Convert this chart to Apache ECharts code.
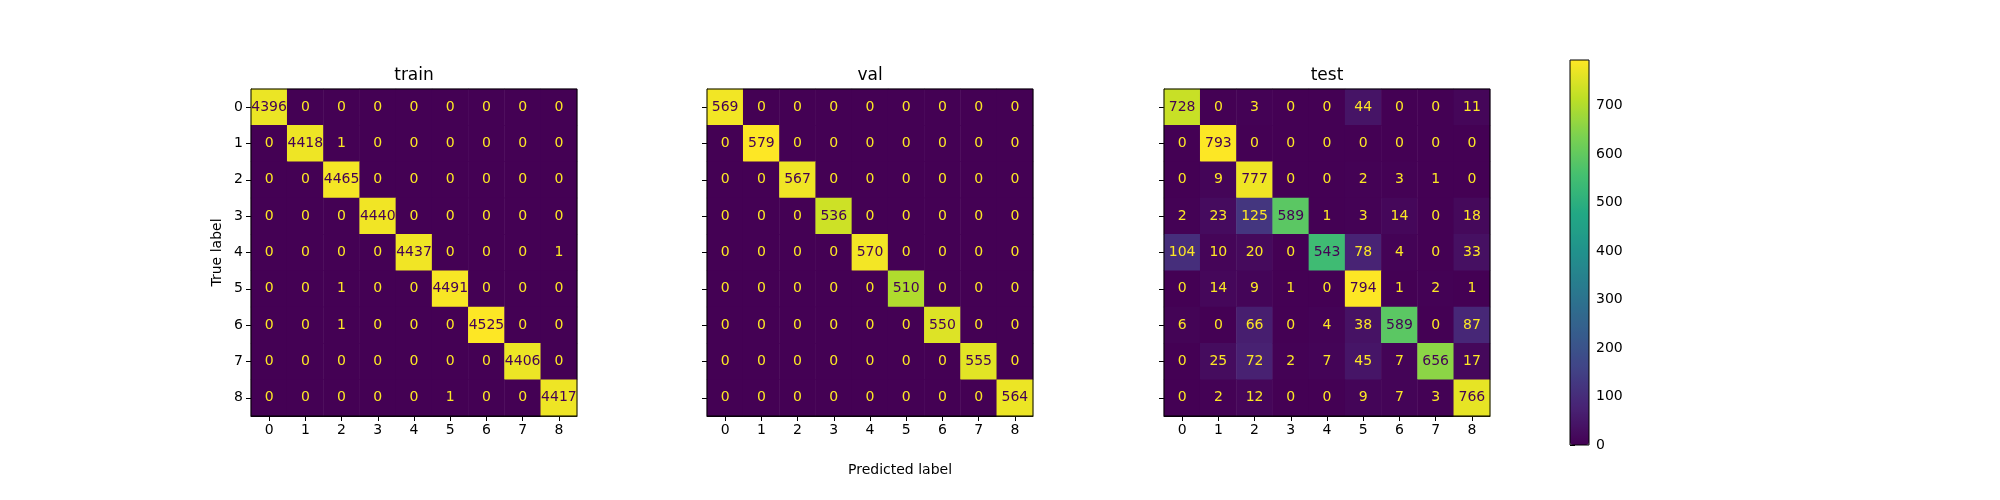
<!DOCTYPE html>
<html>
<head>
<meta charset="utf-8">
<script src="https://cdn.jsdelivr.net/npm/echarts@6/dist/echarts.min.js"></script>
<style>
  html, body { margin: 0; padding: 0; background: #fff; }
  #main { width: 2000px; height: 500px; }
</style>
</head>
<body>
<div id="main"></div>
<script>
const labels = ['0', '1', '2', '3', '4', '5', '6', '7', '8']
const panelNames = ['train', 'val', 'test']

// rows = true label, cols = predicted label
const trainMatrix = [
  [4396, 0, 0, 0, 0, 0, 0, 0, 0],
  [0, 4418, 1, 0, 0, 0, 0, 0, 0],
  [0, 0, 4465, 0, 0, 0, 0, 0, 0],
  [0, 0, 0, 4440, 0, 0, 0, 0, 0],
  [0, 0, 0, 0, 4437, 0, 0, 0, 1],
  [0, 0, 1, 0, 0, 4491, 0, 0, 0],
  [0, 0, 1, 0, 0, 0, 4525, 0, 0],
  [0, 0, 0, 0, 0, 0, 0, 4406, 0],
  [0, 0, 0, 0, 0, 1, 0, 0, 4417]
]
const valMatrix = [
  [569, 0, 0, 0, 0, 0, 0, 0, 0],
  [0, 579, 0, 0, 0, 0, 0, 0, 0],
  [0, 0, 567, 0, 0, 0, 0, 0, 0],
  [0, 0, 0, 536, 0, 0, 0, 0, 0],
  [0, 0, 0, 0, 570, 0, 0, 0, 0],
  [0, 0, 0, 0, 0, 510, 0, 0, 0],
  [0, 0, 0, 0, 0, 0, 550, 0, 0],
  [0, 0, 0, 0, 0, 0, 0, 555, 0],
  [0, 0, 0, 0, 0, 0, 0, 0, 564]
]
const testMatrix = [
  [728, 0, 3, 0, 0, 44, 0, 0, 11],
  [0, 793, 0, 0, 0, 0, 0, 0, 0],
  [0, 9, 777, 0, 0, 2, 3, 1, 0],
  [2, 23, 125, 589, 1, 3, 14, 0, 18],
  [104, 10, 20, 0, 543, 78, 4, 0, 33],
  [0, 14, 9, 1, 0, 794, 1, 2, 1],
  [6, 0, 66, 0, 4, 38, 589, 0, 87],
  [0, 25, 72, 2, 7, 45, 7, 656, 17],
  [0, 2, 12, 0, 0, 9, 7, 3, 766]
]
const colorbarTicks = [0, 100, 200, 300, 400, 500, 600, 700]

const viridis = ['#440154', '#482475', '#414487', '#355f8d', '#2a788e',
  '#21918c', '#22a884', '#44bf70', '#7ad151', '#bddf26', '#fde725']
const FONT = 'DejaVu Sans'

const matrices = [trainMatrix, valMatrix, testMatrix]
const panelLeft = [251, 707, 1164]
const panelTop = 89, panelW = 326, panelH = 327

function buildData(m) {
  let flat = [].concat(...m)
  let max = Math.max(...flat), min = Math.min(...flat)
  let thresh = (max + min) / 2
  let data = []
  m.forEach((row, i) => {
    row.forEach((v, j) => {
      data.push({
        value: [j, i, v],
        label: { color: v < thresh ? viridis[10] : viridis[0] }
      })
    })
  })
  return { data, max, min }
}

let grids = [], xAxes = [], yAxes = [], series = [], visualMaps = [], graphics = []

matrices.forEach((m, k) => {
  let built = buildData(m)
  grids.push({
    left: panelLeft[k], top: panelTop, width: panelW, height: panelH,
    show: true, borderColor: '#000', borderWidth: 1, backgroundColor: 'transparent', z: 5
  })
  xAxes.push({
    type: 'category', gridIndex: k, data: labels, position: 'bottom',
    axisLine: { show: true, lineStyle: { color: '#000' } },
    axisTick: { show: true, alignWithLabel: true, length: 5, lineStyle: { color: '#000' } },
    axisLabel: { color: '#000', fontSize: 14, fontFamily: FONT, margin: 7 },
    splitArea: { show: false }, splitLine: { show: false }
  })
  yAxes.push({
    type: 'category', gridIndex: k, data: labels, inverse: true,
    name: k === 0 ? 'True label' : '',
    nameLocation: 'middle', nameGap: 27,
    nameTextStyle: { color: '#000', fontSize: 14, fontFamily: FONT },
    axisLine: { show: true, lineStyle: { color: '#000' } },
    axisTick: { show: true, alignWithLabel: true, length: 5, lineStyle: { color: '#000' } },
    axisLabel: { show: k === 0, color: '#000', fontSize: 14, fontFamily: FONT, margin: 8 },
    splitArea: { show: false }, splitLine: { show: false }
  })
  series.push({
    type: 'heatmap', xAxisIndex: k, yAxisIndex: k,
    data: built.data,
    itemStyle: { borderWidth: 0 },
    label: { show: true, fontSize: 14, fontFamily: FONT },
    emphasis: { disabled: true }
  })
  visualMaps.push({
    type: 'continuous', seriesIndex: k, dimension: 2,
    min: built.min, max: built.max,
    inRange: { color: viridis },
    show: k === 2, calculable: false, hoverLink: false,
    left: 1570, top: 60, itemWidth: 19, itemHeight: 385,
    padding: 0, text: null, showLabel: false, z: 1
  })
  graphics.push({
    type: 'text', x: panelLeft[k] + panelW / 2, y: 76,
    style: { text: panelNames[k], fill: '#000', fontSize: 17, fontFamily: FONT,
      textAlign: 'center', textVerticalAlign: 'middle' }
  })
})

// colorbar frame and ticks (matches the test panel's range)
let testMax = Math.max(...[].concat(...testMatrix))
grids.push({
  left: 1570, top: 60, width: 19, height: 385,
  show: true, borderColor: '#000', borderWidth: 1, backgroundColor: 'transparent', z: 10
})
xAxes.push({ type: 'value', gridIndex: 3, show: false, min: 0, max: 1 })
yAxes.push({
  type: 'value', gridIndex: 3, position: 'right', min: 0, max: testMax,
  axisLine: { show: false },
  splitLine: { show: false },
  axisTick: { show: true, length: 5, customValues: colorbarTicks, lineStyle: { color: '#000' } },
  axisLabel: { color: '#000', fontSize: 14, fontFamily: FONT, margin: 7, customValues: colorbarTicks }
})

graphics.push({
  type: 'text', x: 900, y: 470,
  style: { text: 'Predicted label', fill: '#000', fontSize: 14, fontFamily: FONT,
    textAlign: 'center', textVerticalAlign: 'middle' }
})

const chart = echarts.init(document.getElementById('main'), null, { renderer: 'canvas' })
chart.setOption({
  backgroundColor: '#fff',
  animation: false,
  grid: grids,
  xAxis: xAxes,
  yAxis: yAxes,
  visualMap: visualMaps,
  series: series,
  graphic: graphics
})
</script>
</body>
</html>
